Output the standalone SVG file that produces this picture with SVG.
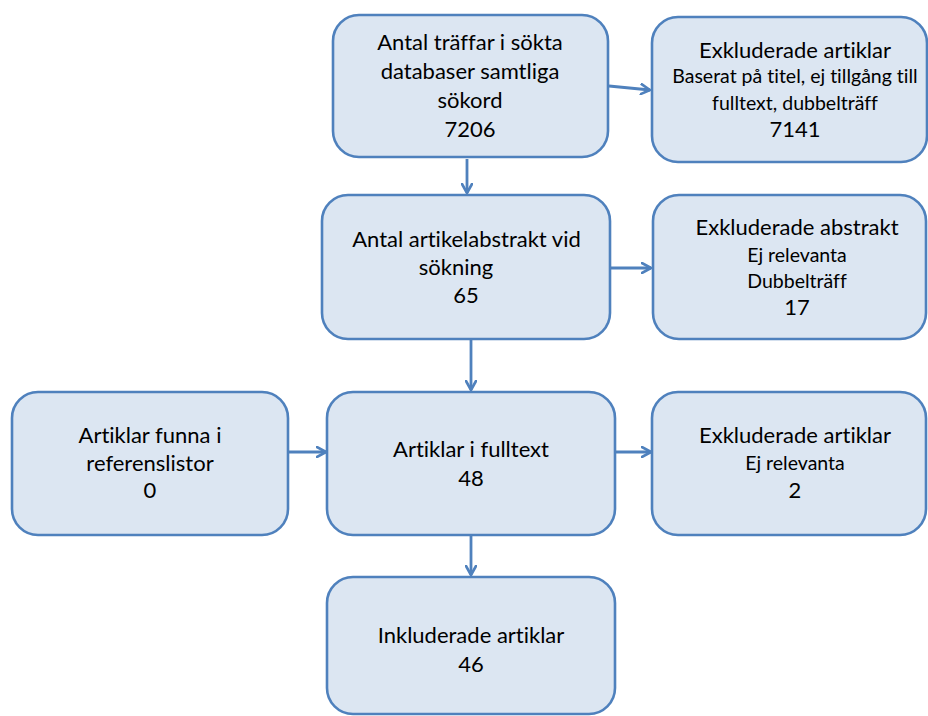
<svg xmlns="http://www.w3.org/2000/svg" width="928" height="716" viewBox="0 0 928 716">
<defs>
<marker id="arr" viewBox="0 0 12 12" refX="10" refY="6" markerWidth="12" markerHeight="12" markerUnits="userSpaceOnUse" orient="auto">
<path d="M1,1 L10,6 L1,11" fill="none" stroke="#4f81bd" stroke-width="2.6" stroke-linecap="round" stroke-linejoin="round"/>
</marker>
<style>
.box{fill:#dce6f2;stroke:#4f81bd;stroke-width:2.6}
.t{font-family:Lato,"Liberation Sans",sans-serif;font-size:22px;fill:#000;text-anchor:middle;font-variant-ligatures:none}
.s{font-family:Lato,"Liberation Sans",sans-serif;font-size:19.5px;fill:#000;text-anchor:middle;font-variant-ligatures:none}
.c{fill:none;stroke:#4f81bd;stroke-width:2.8;marker-end:url(#arr)}
</style>
</defs>
<rect width="928" height="716" fill="#fff"/>
<g id="connectors">
<path class="c" d="M609,86 L650,90"/>
<path class="c" d="M467,159 L467,193"/>
<path class="c" d="M611,268 L651,268"/>
<path class="c" d="M471,340 L471,390"/>
<path class="c" d="M289,452 L326,452"/>
<path class="c" d="M616,452 L651,452"/>
<path class="c" d="M471,536 L471,575"/>
</g>
<g id="n1">
<rect class="box" x="333" y="15" width="275" height="142" rx="26"/>
<text class="t" x="470" y="50">Antal träffar i sökta</text>
<text class="t" x="470" y="79">databaser samtliga</text>
<text class="t" x="470" y="108">sökord</text>
<text class="t" x="470" y="137">7206</text>
</g>
<g id="n2">
<rect class="box" x="652" y="17" width="275" height="145" rx="26"/>
<text class="t" x="795" y="58">Exkluderade artiklar</text>
<text class="s" x="795" y="83">Baserat på titel, ej tillgång till</text>
<text class="s" x="795" y="110">fulltext, dubbelträff</text>
<text class="t" x="795" y="137">7141</text>
</g>
<g id="n3">
<rect class="box" x="322" y="195" width="288" height="144" rx="26"/>
<text class="t" x="466.5" y="247">Antal artikelabstrakt vid</text>
<text class="t" x="456" y="275">sökning</text>
<text class="t" x="466" y="303">65</text>
</g>
<g id="n4">
<rect class="box" x="653" y="195" width="273" height="144" rx="26"/>
<text class="t" x="797" y="235">Exkluderade abstrakt</text>
<text class="s" x="797" y="262">Ej relevanta</text>
<text class="s" x="797" y="288">Dubbelträff</text>
<text class="t" x="797" y="315">17</text>
</g>
<g id="n5">
<rect class="box" x="12" y="392" width="276" height="143" rx="26"/>
<text class="t" x="150" y="443">Artiklar funna i</text>
<text class="t" x="150" y="471">referenslistor</text>
<text class="t" x="150" y="498">0</text>
</g>
<g id="n6">
<rect class="box" x="327" y="392" width="288" height="143" rx="26"/>
<text class="t" x="471" y="457">Artiklar i fulltext</text>
<text class="t" x="471" y="486">48</text>
</g>
<g id="n7">
<rect class="box" x="652" y="392" width="274" height="143" rx="26"/>
<text class="t" x="795" y="443">Exkluderade artiklar</text>
<text class="s" x="795" y="470">Ej relevanta</text>
<text class="t" x="795" y="498">2</text>
</g>
<g id="n8">
<rect class="box" x="327" y="577" width="288" height="137" rx="26"/>
<text class="t" x="471" y="643">Inkluderade artiklar</text>
<text class="t" x="471" y="672">46</text>
</g>
</svg>
